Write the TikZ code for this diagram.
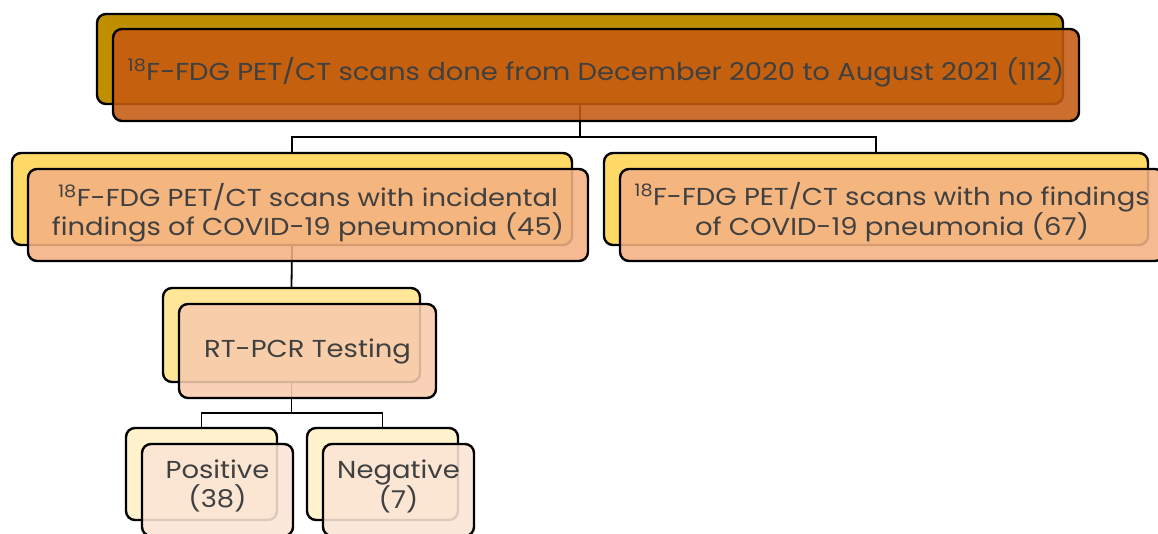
\documentclass[tikz,border=0pt]{standalone}
\usepackage{fontspec}
\setmainfont{Poppins}[FakeStretch=1.12]
\usepackage{tikz}
\usetikzlibrary{
  backgrounds  % 连线放在底层
}

% 配色
\definecolor{txtgray}{HTML}{404040}
\definecolor{goldA}{HTML}{BF8F00}
\definecolor{goldB}{HTML}{FFD966}
\definecolor{goldC}{HTML}{FFE699}
\definecolor{goldD}{HTML}{FFF2CC}
\definecolor{oraA}{HTML}{C55A11}
\definecolor{oraB}{HTML}{F4B183}
\definecolor{oraC}{HTML}{F8CBAD}
\definecolor{oraD}{HTML}{FBE5D6}

\begin{document}
\begin{tikzpicture}[x=1pt, y=1pt,
    box/.style={draw=black, line width=2.4pt, rounded corners=9pt, inner sep=0pt},
    front/.style={box, fill opacity=0.88, text opacity=1, text=txtgray, align=center,
      font=\fontsize{24.5}{29}\selectfont},
    link/.style={draw=black, line width=1.8pt}]
    \useasboundingbox (0,0) rectangle (1158,534);
    % 前后两层卡片的错位
    \def\dx{16}
    % 文字稍微上提
    \def\lift{\rule[-12pt]{0pt}{12pt}}

    % --- 第一层：全部扫描 ---
    \node[box, fill=goldA, minimum width=966pt, minimum height=90pt] (allB) at (580,475) {};
    \node[front, fill=oraA, minimum width=966pt, minimum height=92pt] (allF) at ([shift={(\dx,-\dx)}]allB.center)
      {\textsuperscript{18}F-FDG PET/CT scans done from December 2020 to August 2021 (112)\lift};

    % --- 第二层：有/无肺炎表现 ---
    \node[box, fill=goldB, minimum width=560pt, minimum height=92pt] (withB) at (292,335) {};
    \node[front, fill=oraB, minimum width=560pt, minimum height=92pt] (withF) at ([shift={(\dx,-\dx)}]withB.center)
      {\textsuperscript{18}F-FDG PET/CT scans with incidental\\ findings of COVID-19 pneumonia (45)\lift};
    \node[box, fill=goldB, minimum width=544pt, minimum height=92pt] (noB) at (876,335) {};
    \node[front, fill=oraB, minimum width=544pt, minimum height=92pt] (noF) at ([shift={(\dx,-\dx)}]noB.center)
      {\textsuperscript{18}F-FDG PET/CT scans with no findings\\ of COVID-19 pneumonia (67)\lift};

    % --- 第三层：核酸检测 ---
    \node[box, fill=goldC, minimum width=257pt, minimum height=94pt] (pcrB) at (291.5,199) {};
    \node[front, fill=oraC, minimum width=257pt, minimum height=94pt] (pcrF) at ([shift={(\dx,-\dx)}]pcrB.center)
      {RT-PCR Testing};

    % --- 第四层：阳性/阴性 ---
    \node[box, fill=goldD, minimum width=151pt, minimum height=92pt] (posB) at (201.5,60) {};
    \node[front, fill=oraD, minimum width=151pt, minimum height=92pt] (posF) at ([shift={(\dx,-\dx)}]posB.center)
      {Positive\\ (38)\lift};
    \node[box, fill=goldD, minimum width=151pt, minimum height=92pt] (negB) at (382.5,60) {};
    \node[front, fill=oraD, minimum width=151pt, minimum height=92pt] (negF) at ([shift={(\dx,-\dx)}]negB.center)
      {Negative\\ (7)\lift};

    % --- 连线（底层） ---
    \begin{scope}[on background layer]
      \draw[link] (allB.south) -- ++(0,-32) -| (withB.north);
      \draw[link] (allB.south) -- ++(0,-32) -| (noB.north);
      \draw[link] (withB.south) -- (pcrB.north);
      \draw[link] (pcrB.south) -- ++(0,-30) -| (posB.north);
      \draw[link] (pcrB.south) -- ++(0,-30) -| (negB.north);
    \end{scope}

  \end{tikzpicture}
\end{document}
